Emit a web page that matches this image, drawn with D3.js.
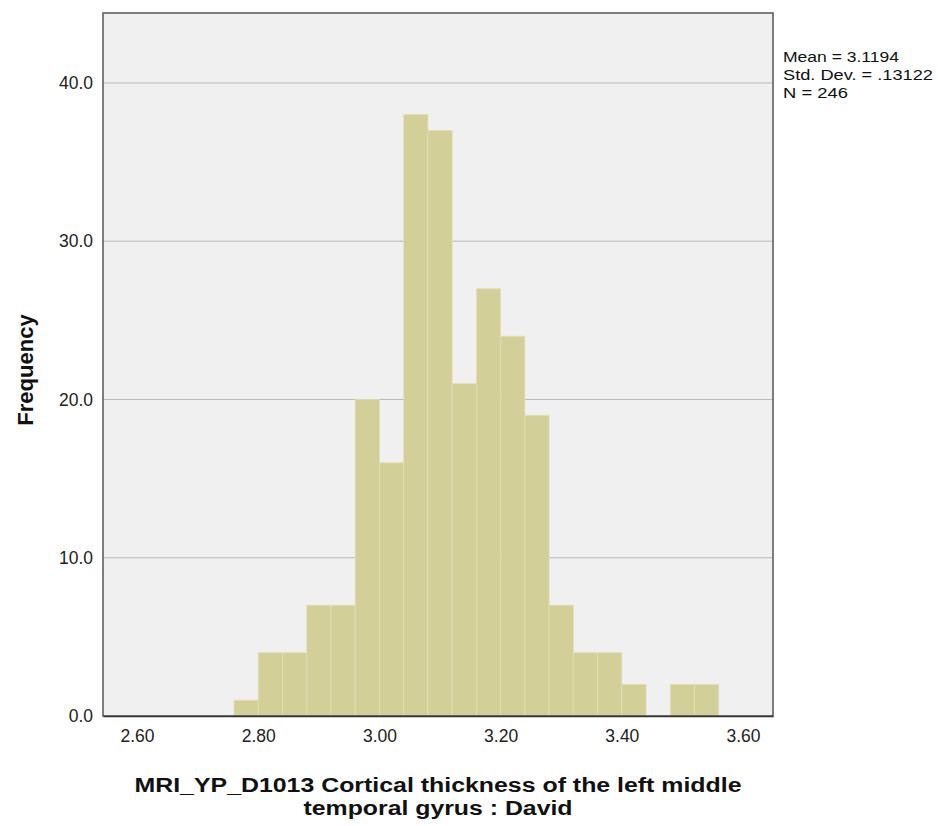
<!DOCTYPE html>
<html><head><meta charset="utf-8">
<script src="https://cdn.jsdelivr.net/npm/d3@7"></script>
<style>body{margin:0;background:#fff;} text{font-family:"Liberation Sans",Arial,sans-serif;}</style>
</head><body><svg id="c" width="938" height="826"></svg>
<script>
const binStarts = [2.76,2.80,2.84,2.88,2.92,2.96,3.00,3.04,3.08,3.12,3.16,3.20,3.24,3.28,3.32,3.36,3.40,3.44,3.48,3.52];
const counts = [1,4,4,7,7,20,16,38,37,21,27,24,19,7,4,4,2,0,2,2];
const binWidth = 0.04;
const xTicks = [2.60,2.80,3.00,3.20,3.40,3.60];
const yTicks = [0,10,20,30,40];
const statsLines = ["Mean = 3.1194","Std. Dev. = .13122","N = 246"];
const xTitle = ["MRI_YP_D1013 Cortical thickness of the left middle","temporal gyrus : David"];
const yTitle = "Frequency";

const svg = d3.select("#c");
const L=103, R=773, T=13, B=716;
const x = d3.scaleLinear().domain([2.5438, 3.6495]).range([L,R]);
const y = d3.scaleLinear().domain([0, 44.42]).range([B,T]);

svg.append("rect").attr("x",L).attr("y",T).attr("width",R-L).attr("height",B-T).attr("fill","#f0f0f0");

svg.append("g").selectAll("line").data(yTicks.filter(d=>d>0)).join("line")
  .attr("x1",L).attr("x2",R).attr("y1",d=>y(d)).attr("y2",d=>y(d))
  .attr("stroke","#b9b9b9").attr("stroke-width",1);

svg.append("g").selectAll("rect").data(counts.map((c,i)=>({s:binStarts[i],c})).filter(d=>d.c>0)).join("rect")
  .attr("x",d=>x(d.s)).attr("width",d=>x(d.s+binWidth)-x(d.s))
  .attr("y",d=>y(d.c)).attr("height",d=>y(0)-y(d.c))
  .attr("fill","#d3cf98").attr("stroke","#e2dfb6").attr("stroke-width",0.8);

svg.append("rect").attr("x",L).attr("y",T).attr("width",R-L).attr("height",B-T)
  .attr("fill","none").attr("stroke","#555").attr("stroke-width",1.5);

const xa = svg.append("g").attr("transform",`translate(0,${B})`)
  .call(d3.axisBottom(x).tickValues(xTicks).tickFormat(d3.format(".2f")).tickSize(0).tickPadding(14));
xa.select(".domain").attr("stroke","#333").attr("stroke-width",1.5);
xa.selectAll("text").attr("font-size",17.5).attr("fill","#222").attr("font-family","Liberation Sans, Arial, sans-serif");

const ya = svg.append("g").attr("transform",`translate(${L},0)`)
  .call(d3.axisLeft(y).tickValues(yTicks).tickFormat(d3.format(".1f")).tickSize(0).tickPadding(10));
ya.select(".domain").remove();
ya.selectAll("text").attr("font-size",17.5).attr("fill","#222").attr("font-family","Liberation Sans, Arial, sans-serif");

const st = svg.append("g").selectAll("text").data(statsLines).join("text")
  .attr("x",783).attr("y",(d,i)=>62+i*18).attr("font-size",15.5).attr("fill","#111").text(d=>d);
st.filter((d,i)=>i===1).attr("textLength",150).attr("lengthAdjust","spacingAndGlyphs");
st.filter((d,i)=>i===0).attr("textLength",116).attr("lengthAdjust","spacingAndGlyphs");
st.filter((d,i)=>i===2).attr("textLength",65).attr("lengthAdjust","spacingAndGlyphs");

svg.append("text").attr("transform","translate(33,370) rotate(-90)").attr("text-anchor","middle")
  .attr("font-size",22).attr("font-weight","bold").attr("fill","#111").text(yTitle);

const xt = svg.append("g").selectAll("text").data(xTitle).join("text")
  .attr("x",438).attr("y",(d,i)=>792+i*23).attr("text-anchor","middle")
  .attr("font-size",20).attr("font-weight","bold").attr("fill","#111").text(d=>d);
xt.filter((d,i)=>i===0).attr("textLength",607).attr("lengthAdjust","spacingAndGlyphs");
xt.filter((d,i)=>i===1).attr("textLength",269).attr("lengthAdjust","spacingAndGlyphs");
</script></body></html>
